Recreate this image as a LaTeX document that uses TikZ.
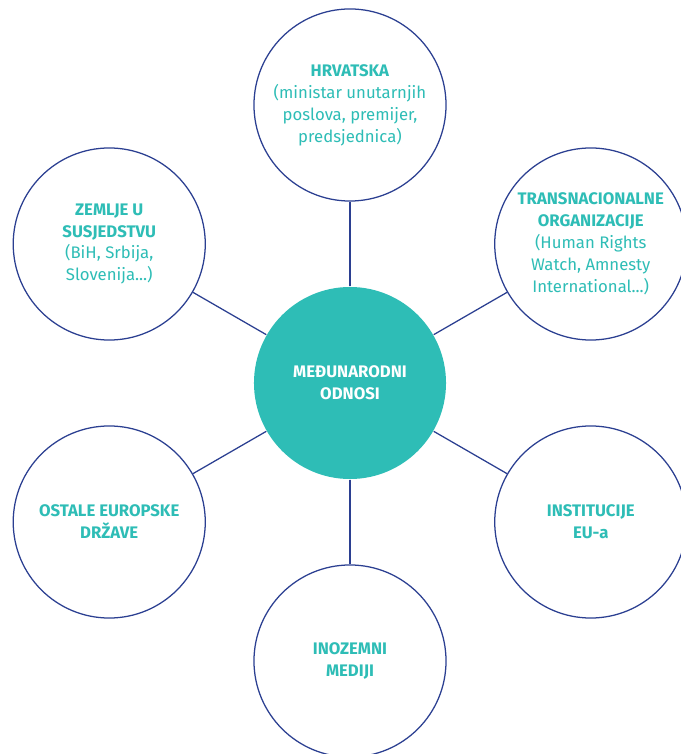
\documentclass[tikz,border=0pt]{standalone}
\usepackage{fontspec}
\setmainfont{Fira Sans}
\definecolor{tirkiz}{RGB}{46,189,182}
\definecolor{linija}{RGB}{43,63,145}

\begin{document}
\begin{tikzpicture}[x=0.025cm,y=0.025cm,line width=0.9pt,
  font=\fontsize{11.9}{15.6}\selectfont]
  \useasboundingbox (-350,-371) rectangle (331,383);
  \begin{scope}[every node/.style={circle,draw=linija,fill=white,minimum size=4.8cm,inner sep=0pt,align=center,text=tirkiz}]
    \node (O) at (0,0) [fill=tirkiz,draw=none,text=white] {\textbf{MEĐUNARODNI}\\\textbf{ODNOSI}};
    \node (H) at (90:278) {\textbf{HRVATSKA}\\(ministar unutarnjih\\poslova, premijer,\\predsjednica)};
    \node (T) at (30:278) {\textbf{TRANSNACIONALNE}\\\textbf{ORGANIZACIJE}\\(Human Rights\\Watch, Amnesty\\International...)};
    \node (I) at (-30:278) {\textbf{INSTITUCIJE}\\\textbf{EU-a}};
    \node (M) at (-90:278) {\textbf{INOZEMNI}\\\textbf{MEDIJI}};
    \node (E) at (210:278) {\textbf{OSTALE EUROPSKE}\\\textbf{DRŽAVE}};
    \node (S) at (150:278) {\textbf{ZEMLJE U}\\\textbf{SUSJEDSTVU}\\(BiH, Srbija,\\Slovenija...)};
  \end{scope}

  \draw[linija] (O) -- (H);
  \draw[linija] (O) -- (T);
  \draw[linija] (O) -- (I);
  \draw[linija] (O) -- (M);
  \draw[linija] (O) -- (E);
  \draw[linija] (O) -- (S);
\end{tikzpicture}
\end{document}
